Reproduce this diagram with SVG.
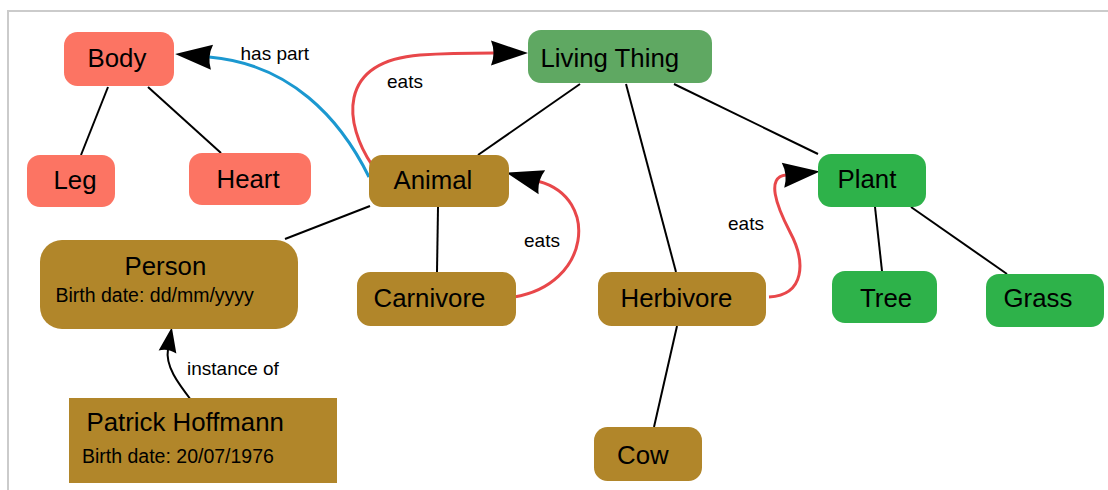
<svg xmlns="http://www.w3.org/2000/svg" width="1108" height="490" viewBox="0 0 1108 490">
<defs>
<style>
.salmon{fill:#fc7463}
.dgreen{fill:#5fa862}
.green{fill:#2eb24a}
.brown{fill:#b1862a}
.lbl{font-family:"Liberation Sans",Arial,sans-serif;font-size:25.8px;fill:#000}
.sub{font-family:"Liberation Sans",Arial,sans-serif;font-size:19.5px;fill:#000}
.elbl{font-family:"Liberation Sans",Arial,sans-serif;font-size:19px;fill:#000}
.plain{stroke:#000;stroke-width:2;fill:none}
.eats{stroke:#e8474a;stroke-width:3;fill:none}
.part{stroke:#1b98d0;stroke-width:3;fill:none}
</style>
<marker id="bigArrow" markerUnits="userSpaceOnUse" orient="auto" refX="0" refY="0" markerWidth="80" markerHeight="80" overflow="visible">
<path d="M34,0 L-3,-12.5 Q2,0 -3,12.5 Z" fill="#000"/>
</marker>
<marker id="smallArrow" markerUnits="userSpaceOnUse" orient="auto" refX="0" refY="0" markerWidth="60" markerHeight="60" overflow="visible">
<path d="M22,0 L-3,-9 Q1,0 -3,9 Z" fill="#000"/>
</marker>
</defs>
<rect width="1108" height="490" fill="#fff"/>
<path d="M8,490 V11 H1108" fill="none" stroke="#cbcbcb" stroke-width="2"/>

<g id="connectors">
<line class="plain" x1="108" y1="87" x2="81" y2="155"/>
<line class="plain" x1="148" y1="87" x2="221" y2="153"/>
<line class="plain" x1="580" y1="84" x2="478" y2="155"/>
<line class="plain" x1="626" y1="84" x2="676" y2="272"/>
<line class="plain" x1="674" y1="84" x2="818" y2="154"/>
<line class="plain" x1="370" y1="206" x2="285" y2="239"/>
<line class="plain" x1="438" y1="207" x2="437" y2="272"/>
<line class="plain" x1="677" y1="326" x2="654" y2="427"/>
<line class="plain" x1="875" y1="207" x2="882" y2="271"/>
<line class="plain" x1="911" y1="207" x2="1007" y2="274"/>
<path class="part" d="M369,177 C340,118 290,64 209,57" marker-end="url(#bigArrow)"/>
<path class="eats" d="M372,165 C345,125 335,62 420,55 C450,53 475,53 494,53" marker-end="url(#bigArrow)"/>
<path class="eats" d="M514,297 C590,285 600,198 539,181.5" marker-end="url(#bigArrow)"/>
<path class="eats" d="M769,297 C805,295 806,262 790,232 C776,205 766,177 786,175" marker-end="url(#bigArrow)"/>
<path class="plain" d="M191,400 C178,383 165,366 168,349" marker-end="url(#smallArrow)"/>
<text class="elbl" x="240.5" y="60">has part</text>
<text class="elbl" x="387" y="88">eats</text>
<text class="elbl" x="524" y="247">eats</text>
<text class="elbl" x="728" y="230">eats</text>
<text class="elbl" x="187" y="375">instance of</text>
</g>

<g id="body"><rect class="salmon" x="64" y="32" width="110" height="54" rx="13.5"/><text class="lbl" x="87.5" y="67">Body</text></g>
<g id="leg"><rect class="salmon" x="27" y="155" width="88" height="52" rx="13"/><text class="lbl" x="53.5" y="188.5">Leg</text></g>
<g id="heart"><rect class="salmon" x="189" y="153" width="122" height="52" rx="13"/><text class="lbl" x="216.5" y="188">Heart</text></g>
<g id="living-thing"><rect class="dgreen" x="528" y="30" width="184" height="53" rx="13"/><text class="lbl" x="540.5" y="67">Living Thing</text></g>
<g id="animal"><rect class="brown" x="369" y="155" width="140" height="52" rx="13"/><text class="lbl" x="393.5" y="188.5">Animal</text></g>
<g id="plant"><rect class="green" x="818" y="154" width="108" height="53" rx="13"/><text class="lbl" x="837.5" y="188">Plant</text></g>
<g id="tree"><rect class="green" x="832" y="271" width="105" height="52" rx="13"/><text class="lbl" x="860" y="307">Tree</text></g>
<g id="grass"><rect class="green" x="986" y="274" width="118" height="53" rx="13"/><text class="lbl" x="1003.5" y="306.5">Grass</text></g>
<g id="carnivore"><rect class="brown" x="357" y="272" width="159" height="54" rx="13.5"/><text class="lbl" x="373.5" y="307">Carnivore</text></g>
<g id="herbivore"><rect class="brown" x="598" y="272" width="168" height="54" rx="13.5"/><text class="lbl" x="620.5" y="307">Herbivore</text></g>
<g id="cow"><rect class="brown" x="594" y="427" width="108" height="54" rx="13.5"/><text class="lbl" x="617" y="463.5">Cow</text></g>
<g id="person"><rect class="brown" x="40" y="240" width="258" height="89" rx="22"/><text class="lbl" x="124.5" y="274.5">Person</text><text class="sub" x="55.5" y="302">Birth date: dd/mm/yyyy</text></g>
<g id="patrick-hoffmann"><rect class="brown" x="69" y="398" width="268" height="85"/><text class="lbl" x="86.5" y="431">Patrick Hoffmann</text><text class="sub" x="82" y="462.5">Birth date: 20/07/1976</text></g>
</svg>
